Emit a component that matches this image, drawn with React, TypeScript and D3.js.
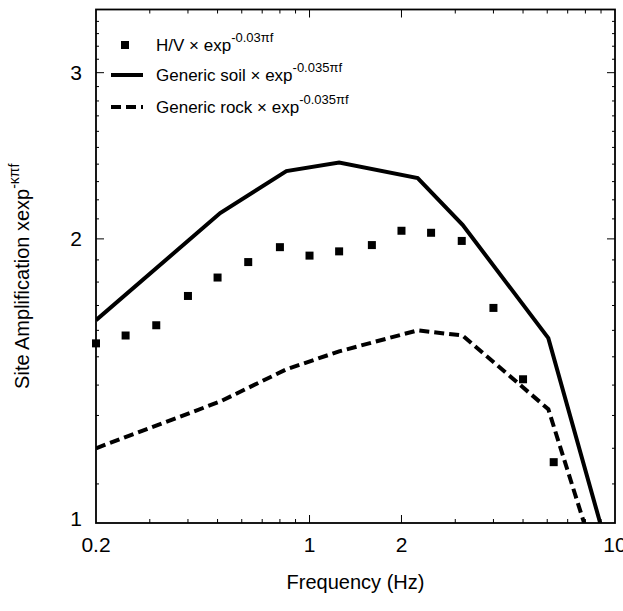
import React from "react";
import * as d3 from "d3";

const hvFreq = [0.2, 0.25, 0.315, 0.4, 0.5, 0.63, 0.8, 1.0, 1.25, 1.6, 2.0, 2.5, 3.15, 4.0, 5.0, 6.3];
const hvAmp = [1.55, 1.58, 1.62, 1.74, 1.82, 1.89, 1.96, 1.92, 1.94, 1.97, 2.04, 2.03, 1.99, 1.69, 1.42, 1.16];

const genericFreq = [0.2, 0.51, 0.84, 1.25, 2.26, 3.17, 6.05, 16.6];
const soilAmp = [1.64, 2.13, 2.36, 2.41, 2.32, 2.07, 1.57, 0.49];
const rockAmp = [1.2, 1.345, 1.455, 1.52, 1.6, 1.58, 1.32, 0.467];

const xTickLabels = [0.2, 1, 2, 10];
const xMajorTicks = [1, 2];
const xMinorTicks = [0.3, 0.4, 0.5, 0.6, 0.7, 0.8, 0.9, 3, 4, 5, 6, 7, 8, 9];
const yTickLabels = [1, 2, 3];
const yMajorTicks = [2, 3];
const yMinorTicks = [1.1, 1.2, 1.3, 1.4, 1.5, 1.6, 1.7, 1.8, 1.9, 2.1, 2.2, 2.3, 2.4, 2.5, 2.6, 2.7, 2.8, 2.9, 3.1, 3.2, 3.3, 3.4];

const W = 623;
const H = 611;
const L = 96, R = 615, T = 9.5, B = 523;
const FONT = "'Liberation Sans', Arial, Helvetica, sans-serif";

export default function App() {
  const x = d3.scaleLog().domain([0.2, 10]).range([L, R]);
  const y = d3.scaleLog().domain([1, 3.5]).range([B, T]);

  const line = d3
    .line<[number, number]>()
    .x((d) => x(d[0]))
    .y((d) => y(d[1]));

  const soil = genericFreq.map((f, i) => [f, soilAmp[i]] as [number, number]);
  const rock = genericFreq.map((f, i) => [f, rockAmp[i]] as [number, number]);

  const sq = 8;

  return (
    <svg
      width={W}
      height={H}
      style={{ position: "absolute", left: 0, top: 0, background: "#fff" }}
      fontFamily={FONT}
    >
      <defs>
        <clipPath id="plotClip">
          <rect x={L} y={T} width={R - L} height={B - T} />
        </clipPath>
      </defs>
      <rect x={0} y={0} width={W} height={H} fill="#fff" />

      {/* ticks */}
      <g stroke="#000" strokeWidth={1}>
        {xMajorTicks.map((t) => (
          <g key={"xm" + t}>
            <line x1={x(t)} x2={x(t)} y1={B} y2={B - 8} />
            <line x1={x(t)} x2={x(t)} y1={T} y2={T + 8} />
          </g>
        ))}
        {xMinorTicks.map((t) => (
          <g key={"xn" + t}>
            <line x1={x(t)} x2={x(t)} y1={B} y2={B - 4} />
            <line x1={x(t)} x2={x(t)} y1={T} y2={T + 4} />
          </g>
        ))}
        {yMajorTicks.map((t) => (
          <g key={"ym" + t}>
            <line x1={L} x2={L + 8} y1={y(t)} y2={y(t)} />
            <line x1={R} x2={R - 8} y1={y(t)} y2={y(t)} />
          </g>
        ))}
        {yMinorTicks.map((t) => (
          <g key={"yn" + t}>
            <line x1={L} x2={L + 3} y1={y(t)} y2={y(t)} />
            <line x1={R} x2={R - 3} y1={y(t)} y2={y(t)} />
          </g>
        ))}
      </g>

      {/* data */}
      <g clipPath="url(#plotClip)">
        <path d={line(soil) || ""} fill="none" stroke="#000" strokeWidth={4} strokeLinejoin="miter" />
        <path
          d={line(rock) || ""}
          fill="none"
          stroke="#000"
          strokeWidth={4}
          strokeDasharray="10,5"
        />
      </g>
      {hvFreq.map((f, i) => (
        <rect
          key={"hv" + i}
          x={x(f) - sq / 2}
          y={y(hvAmp[i]) - sq / 2}
          width={sq}
          height={sq}
          fill="#000"
        />
      ))}

      {/* frame */}
      <rect x={L} y={T} width={R - L} height={B - T} fill="none" stroke="#000" strokeWidth={1.8} />

      {/* tick labels */}
      <g fontSize={21} fill="#000">
        {xTickLabels.map((t) => (
          <text key={"xl" + t} x={x(t)} y={B + 29} textAnchor="middle">
            {t}
          </text>
        ))}
        {yTickLabels.map((t) => (
          <text key={"yl" + t} x={L - 14} y={y(t) - (t === 1 ? 4 : 0)} textAnchor="end" dy="0.35em">
            {t}
          </text>
        ))}
      </g>

      {/* axis titles */}
      <text x={(L + R) / 2} y={589} textAnchor="middle" fontSize={20}>
        Frequency (Hz)
      </text>
      <text transform={`translate(29, ${(T + B) / 2 + 10}) rotate(-90)`} textAnchor="middle" fontSize={20}>
        Site Amplification xexp
        <tspan fontSize={14} dy={-10}>-κπf</tspan>
      </text>

      {/* legend */}
      <g fontSize={17}>
        <rect x={125 - sq / 2} y={45 - sq / 2} width={sq} height={sq} fill="#000" />
        <text x={156} y={51}>
          H/V × exp<tspan fontSize={13} dy={-9}>-0.03πf</tspan>
        </text>
        <line x1={111} x2={143} y1={75} y2={75} stroke="#000" strokeWidth={4} />
        <text x={156} y={81}>
          Generic soil × exp<tspan fontSize={13} dy={-9}>-0.035πf</tspan>
        </text>
        <line x1={111} x2={143} y1={107} y2={107} stroke="#000" strokeWidth={4} strokeDasharray="10,5" />
        <text x={156} y={113}>
          Generic rock × exp<tspan fontSize={13} dy={-9}>-0.035πf</tspan>
        </text>
      </g>
    </svg>
  );
}
